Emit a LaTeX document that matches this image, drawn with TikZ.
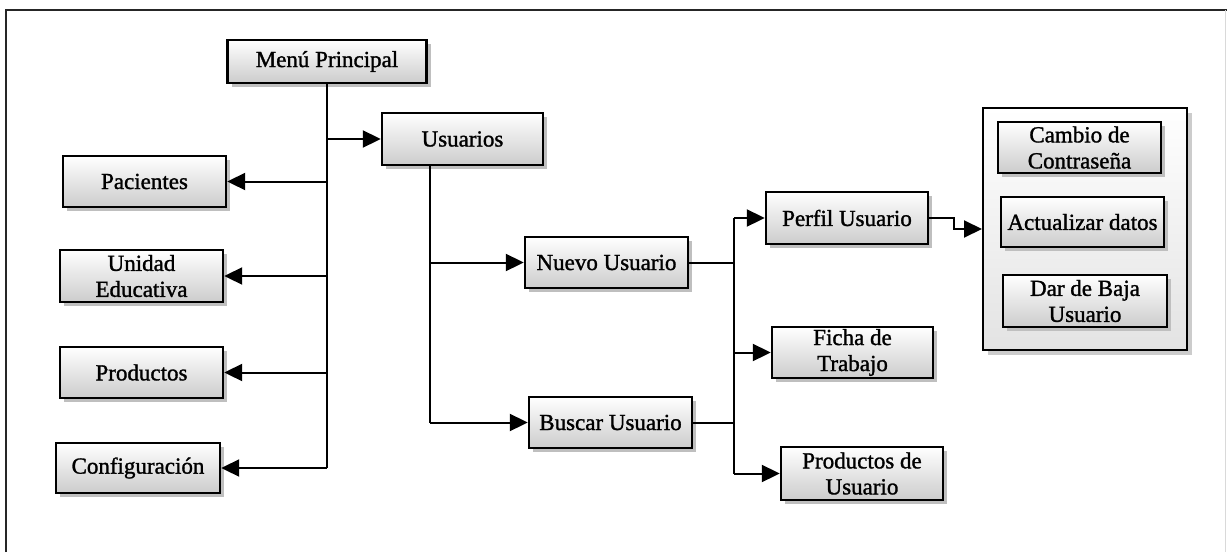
\documentclass[tikz,border=0pt]{standalone}
\usepackage{fontspec}
\setmainfont{Liberation Serif}
\newfontfamily\boxfont{Liberation Serif}[RawFeature={embolden=1.3}]
\usetikzlibrary{arrows.meta,shadows}

\tikzset{
  menubox/.style={draw=black, line width=2.4pt, shading=axis, top color=white,
    bottom color=gray!40,
    drop shadow={shadow xshift=4pt, shadow yshift=-4pt, fill=gray!50, opacity=1},
    align=center, inner sep=0pt, text=black,
    font=\boxfont\fontsize{23}{26}\selectfont},
  groupbox/.style={draw=black, line width=2pt, shading=axis, top color=white,
    bottom color=gray!22,
    drop shadow={shadow xshift=5pt, shadow yshift=-5pt, fill=gray!40, opacity=1},
    inner sep=0pt},
  link/.style={line width=2pt, draw=black},
  arr/.style={link, -{Triangle[length=18pt,width=17pt]}},
  frameline/.style={line width=2.2pt, draw=black!85},
}

\begin{document}
\begin{tikzpicture}[x=1pt,y=1pt]
  \useasboundingbox (0,0) rectangle (1227,-552);

  % page frame
  \draw[frameline] (6,-552) -- (6,-10) -- (1227,-10);
  \draw[line width=1pt, gray!30] (1225.5,-10) -- (1225.5,-552);

  % main menu and its entries
  \node[menubox, minimum width=199pt, minimum height=43pt] (menu) at (327,-61.5) {Menú Principal};
  \node[menubox, minimum width=161pt, minimum height=52pt] (usr) at (462.5,-139) {Usuarios};
  \node[menubox, minimum width=163pt, minimum height=51pt] (pac) at (144.5,-181.5) {Pacientes};
  \node[menubox, minimum width=163pt, minimum height=52pt] (uni) at (141.5,-276) {Unidad\\Educativa};
  \node[menubox, minimum width=163pt, minimum height=51pt] (prod) at (141.5,-372.5) {Productos};
  \node[menubox, minimum width=164pt, minimum height=50pt] (conf) at (138,-468) {Configuración};

  % user management
  \node[menubox, minimum width=163pt, minimum height=51pt] (nuevo) at (606.5,-262.5) {Nuevo Usuario};
  \node[menubox, minimum width=163pt, minimum height=51pt] (buscar) at (610.5,-422.5) {Buscar Usuario};
  \node[menubox, minimum width=162pt, minimum height=52pt] (perfil) at (847,-218) {Perfil Usuario};
  \node[menubox, minimum width=161pt, minimum height=51pt] (ficha) at (852.5,-352.5) {Ficha de\\Trabajo};
  \node[menubox, minimum width=162pt, minimum height=53pt] (produ) at (862,-473.5) {Productos de\\Usuario};

  % profile options group
  \node[groupbox, minimum width=204pt, minimum height=242pt] (grp) at (1085,-229) {};
  \node[menubox, minimum width=163pt, minimum height=51pt] (cambio) at (1079.5,-147.5) {Cambio de\\Contraseña};
  \node[menubox, minimum width=163pt, minimum height=50pt] (actual) at (1082.5,-222) {Actualizar datos};
  \node[menubox, minimum width=164pt, minimum height=52pt] (baja) at (1085,-301) {Dar de Baja\\Usuario};

  % trunk from the main menu
  \draw[link] (menu.south) -- (menu.south |- conf.east);
  \draw[arr] (menu.south |- usr.west) -- (usr.west);
  \draw[arr] (menu.south |- pac.east) -- (pac.east);
  \draw[arr] (menu.south |- uni.east) -- (uni.east);
  \draw[arr] (menu.south |- prod.east) -- (prod.east);
  \draw[arr] (menu.south |- conf.east) -- (conf.east);

  % trunk from Usuarios
  \coordinate (utop) at ([xshift=-32.5pt]usr.south);
  \draw[link] (utop) -- (utop |- buscar.west);
  \draw[arr] (utop |- nuevo.west) -- (nuevo.west);
  \draw[arr] (utop |- buscar.west) -- (buscar.west);

  % trunk to the user pages
  \coordinate (rtop) at (734,-218);
  \draw[link] (rtop) -- (rtop |- produ.west);
  \draw[link] (nuevo.east) -- (rtop |- nuevo.east);
  \draw[link] (buscar.east) -- (rtop |- buscar.east);
  \draw[arr] (rtop) -- (perfil.west);
  \draw[arr] (rtop |- ficha.west) -- (ficha.west);
  \draw[arr] (rtop |- produ.west) -- (produ.west);

  % profile to its options
  \draw[arr] (perfil.east) -- ++(25,0) |- (grp.west);
\end{tikzpicture}
\end{document}
